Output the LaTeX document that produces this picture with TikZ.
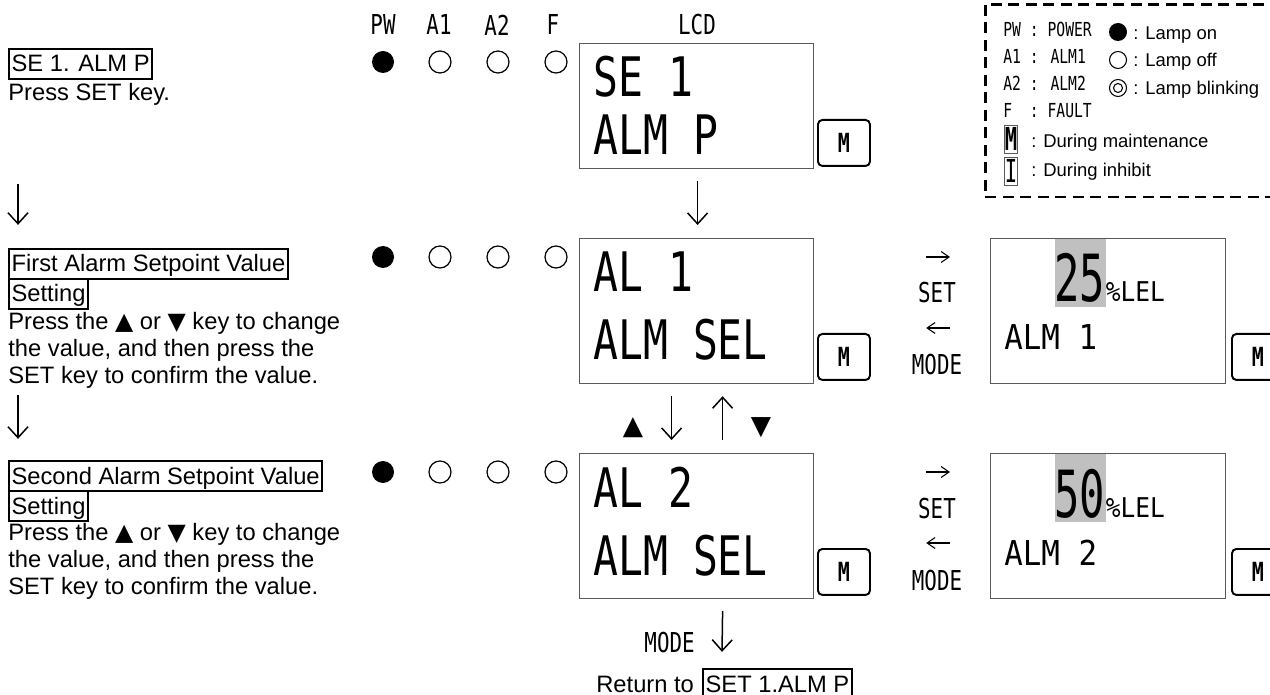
\documentclass[tikz,border=0pt]{standalone}
\usepackage{fontspec}
\setmainfont{Liberation Sans}
\newfontfamily\lcdfont[FakeStretch=0.76]{DejaVu Sans Mono}
\newfontfamily\lcdangosta[FakeStretch=0.65]{DejaVu Sans Mono}
\newfontfamily\lcdancha[FakeStretch=0.9]{DejaVu Sans Mono}
\newfontfamily\simbolo{DejaVu Sans}
\usepackage{tikz}
\usetikzlibrary{positioning,arrows.meta,calc}
\definecolor{borde}{RGB}{90,90,90}
\definecolor{sombra}{RGB}{192,192,192}

\begin{document}
\begin{tikzpicture}[x=0.02cm, y=-0.02cm,
  font=\fontsize{13.5}{15.4}\selectfont,
  pantalla/.style={draw=borde, line width=0.7pt, anchor=north west,
    minimum width=4.68cm, minimum height=#1, inner sep=0pt},
  boton/.style={draw, line width=1.1pt, rounded corners=2.5pt, anchor=north west,
    minimum width=1.04cm, minimum height=0.92cm, inner sep=0pt,
    font=\lcdfont\bfseries\fontsize{15}{15}\selectfont},
  encendida/.style={circle, fill, inner sep=0pt, minimum size=0.44cm},
  apagada/.style={circle, draw, line width=0.7pt, inner sep=0pt, minimum size=0.44cm},
  cab/.style={font=\lcdfont\fontsize{15.6}{16}\selectfont, inner sep=0pt},
  grande/.style={font=\lcdfont\fontsize{31}{31}\selectfont, anchor=base west, inner sep=0pt},
  valor/.style={font=\lcdangosta\fontsize{37}{37}\selectfont, anchor=base west, inner sep=0pt},
  unidad/.style={font=\lcdancha\fontsize{15.5}{16}\selectfont, anchor=base west, inner sep=0pt},
  alm/.style={font=\lcdancha\fontsize{19.5}{20}\selectfont, anchor=base west, inner sep=0pt},
  titulo/.style={draw, line width=1.1pt, anchor=base west, inner xsep=1.5pt,
    inner ysep=1pt, text height=12.2pt, text depth=2.9pt},
  texto/.style={align=left, anchor=north west, inner sep=0pt},
  simb/.style={font=\simbolo\fontsize{15}{15}\selectfont, inner sep=0pt},
  ley/.style={font=\lcdfont\fontsize{11}{11}\selectfont, anchor=base west, inner sep=0pt},
  leytxt/.style={font=\fontsize{10.5}{12}\selectfont, anchor=base west, inner sep=0pt},
  marca/.style={draw=borde, line width=0.4pt, minimum width=0.24cm, minimum height=0.56cm,
    inner sep=0pt, font=\lcdangosta\fontsize{18}{18}\selectfont},
  flecha/.style={-{Straight Barb[length=2.2mm,width=4mm]}, line width=0.85pt},
  flechita/.style={-{Straight Barb[length=1.6mm,width=2.2mm]}, line width=0.6pt}
]
\useasboundingbox (0,0) rectangle (1270,695);
\clip (0,0) rectangle (1270,695);
% Pasos
\node[titulo] (t1) at (8,72) {SE 1. ALM P};
\node[texto] (d1) at (8,81) {\strut Press SET key.};
\node[titulo] (t2a) at (8,272) {First Alarm Setpoint Value\ };
\node[titulo] (t2b) at (8,302) {Setting};
\node[texto] (d2) at (8,310) {\strut Press the {\simbolo ▲} or {\simbolo ▼} key to change\\
the value, and then press the\\ SET key to confirm the value.};
\node[titulo] (t3a) at (8,484) {Second Alarm Setpoint Value\ };
\node[titulo] (t3b) at (8,514) {Setting};
\node[texto] (d3) at (8,521) {\strut Press the {\simbolo ▲} or {\simbolo ▼} key to change\\
the value, and then press the\\ SET key to confirm the value.};
\draw[flecha] ($(t1.south west)+(10,104)$) -- ($(t2a.north west)+(10,-23)$);
\draw[flecha] ($(t2b.south west)+(10,85)$) -- ($(t3a.north west)+(10,-21)$);
% Cabecera
\node[cab] (hpw) at (383,25) {PW};
\node[cab] (ha1) at (439,25) {A1};
\node[cab] (ha2) at (497,25) {A2};
\node[cab] (hf) at (553,25) {F};
\node[cab] (hlcd) at (697,25) {LCD};
% Lamparas
\foreach \f/\y in {1/62,2/257,3/472}{
  \node[encendida] (pw\f) at (383,\y) {};
  \node[apagada] (aa\f) at (440,\y) {};
  \node[apagada] (ab\f) at (498,\y) {};
  \node[apagada] (fa\f) at (556,\y) {};
}
% Pantallas
\node[pantalla=2.5cm] (lcd1) at (579,43) {};
\node[pantalla=2.9cm] (lcd2) at (579,238) {};
\node[pantalla=2.9cm] (lcd3) at (579,453) {};
\node[grande] (s1a) at (593,97) {SE 1};
\node[grande] (s1b) at (593,155) {ALM P};
\node[grande] (s2a) at (593,292) {AL 1};
\node[grande] (s2b) at (593,360) {ALM SEL};
\node[grande] (s3a) at (593,507) {AL 2};
\node[grande] (s3b) at (593,575) {ALM SEL};
\node[boton] (m1) at (817,119) {M};
\node[boton] (m2) at (817,333) {M};
\node[boton] (m3) at (817,548) {M};
% Valores
\node[pantalla=2.9cm, minimum width=4.7cm] (valA) at (990,238) {};
\node[pantalla=2.9cm, minimum width=4.7cm] (valB) at (990,453) {};
\fill[sombra] ($(valA.north west)+(65,1)$) rectangle ($(valA.north west)+(116,69)$);
\fill[sombra] ($(valB.north west)+(65,1)$) rectangle ($(valB.north west)+(116,69)$);
\node[valor] (n25) at (1054,302) {25};
\node[unidad] (u25) at (n25.base east) {\%LEL};
\node[alm] (alA) at (1004,350) {ALM 1};
\node[valor] (n50) at (1054,517) {50};
\node[unidad] (u50) at (n50.base east) {\%LEL};
\node[alm] (alB) at (1004,565) {ALM 2};
\node[boton] (m4) at (1231,333) {M};
\node[boton] (m5) at (1231,548) {M};
\node[cab, anchor=base] (setA) at (937,303) {SET};
\node[cab, anchor=base] (modeA) at (937,375) {MODE};
\node[cab, anchor=base] (setB) at (937,518) {SET};
\node[cab, anchor=base] (modeB) at (937,590) {MODE};
% Flechas
\draw[flecha] ($(lcd1.south)+(1,12)$) -- ($(lcd2.north)+(1,-13)$);
\draw[flecha] ($(lcd2.south)+(-25,12)$) -- ($(lcd3.north)+(-25,-13)$);
\draw[flecha] ($(lcd3.north)+(26,-13)$) -- ($(lcd2.south)+(26,12)$);
\node[simb] (sube) at (633,428) {▲};
\node[simb] (baja) at (761,428) {▼};
\draw[flechita] ($(lcd2.north east)+(112,19)$) -- ($(valA.north west)+(-40,19)$);
\draw[flechita] ($(valA.north west)+(-40,90)$) -- ($(lcd2.north east)+(112,90)$);
\draw[flechita] ($(lcd3.north east)+(112,19)$) -- ($(valB.north west)+(-40,19)$);
\draw[flechita] ($(valB.north west)+(-40,90)$) -- ($(lcd3.north east)+(112,90)$);
% Retorno
\node[inner sep=0pt, anchor=base west] (ret) at (596,692) {Return to};
\node[titulo] (retbox) at (702,692) {SET 1.ALM P};
\node[cab, anchor=base east] (modo) at (695,652) {MODE};
\draw[flecha] ($(lcd3.south)+(26,12)$) -- ($(retbox.north west)+(20,-16)$);
% Leyenda
\draw[line width=1.7pt, dash pattern=on 0.22cm off 0.13cm] (985,5) rectangle (1300,197);
\node[ley] (lpw) at (1003,37) {PW : POWER};
\node[ley] (la1) at (1003,64) {A1 : ALM1};
\node[ley] (la2) at (1003,91) {A2 : ALM2};
\node[ley] (lf) at (1003,118) {F~~: FAULT};
\node[encendida, minimum size=0.36cm] (lon) at (1118,32) {};
\node[apagada, minimum size=0.34cm, line width=0.6pt] (loff) at (1118,60) {};
\node[apagada, minimum size=0.34cm, line width=0.6pt] (lbl) at (1118,88) {};
\node[apagada, minimum size=0.18cm, line width=0.6pt] (lbl2) at (lbl) {};
\node[leytxt] (ton) at (1133,40) {: Lamp on};
\node[leytxt] (toff) at (1133,67) {: Lamp off};
\node[leytxt] (tbl) at (1133,95) {: Lamp blinking};
\node[marca] (lm) at (1011,139) {\bfseries M};
\node[marca] (li) at (1011,171) {I};
\node[leytxt] (tm) at (1031,148) {: During maintenance};
\node[leytxt] (ti) at (1031,177) {: During inhibit};
\end{tikzpicture}
\end{document}
